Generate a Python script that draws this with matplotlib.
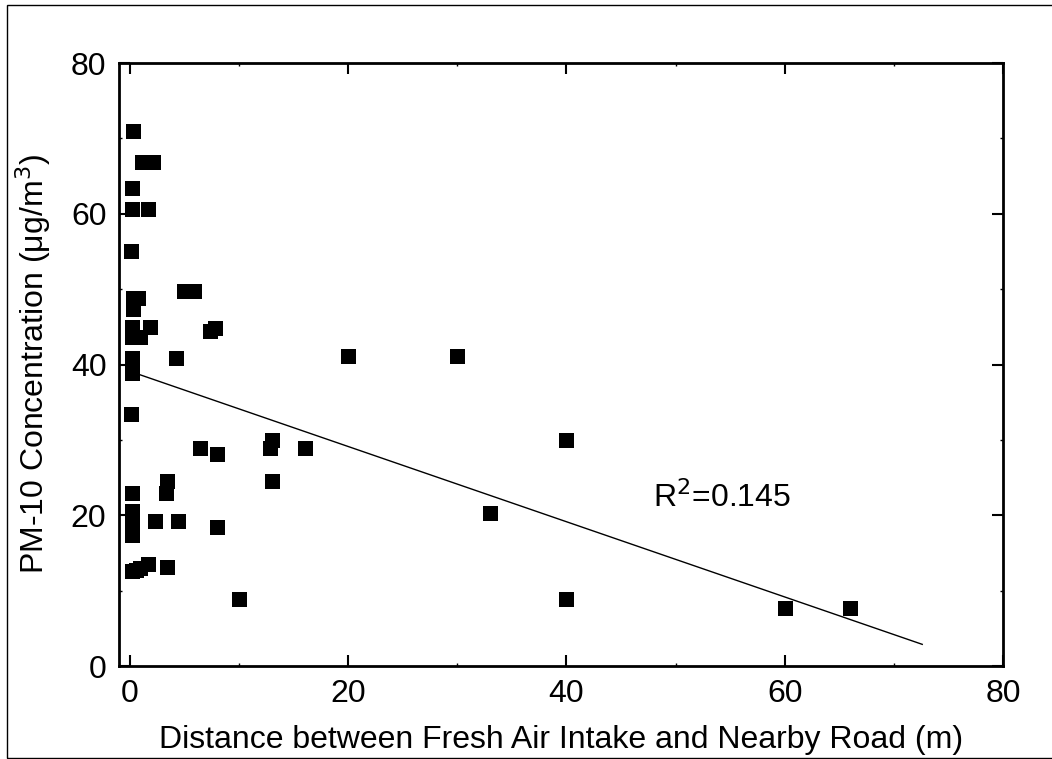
import numpy as np
import matplotlib
matplotlib.use("Agg")
from matplotlib import pyplot as plt
from matplotlib.patches import Rectangle
from matplotlib.ticker import MultipleLocator

plt.rcParams['font.family'] = ['Liberation Sans', 'DejaVu Sans']

# distance (m) and PM-10 concentration (ug/m3)
distance = [0.3, 1.1, 2.1, 0.2, 0.2, 1.7, 0.1, 5.0, 5.9, 0.3,
            0.7, 0.3, 0.2, 1.8, 0.2, 0.9, 7.3, 7.8, 4.2, 0.2,
            0.2, 0.2, 0.1, 20.0, 30.0, 6.4, 8.0, 13.0, 12.8, 16.0,
            13.0, 3.4, 3.3, 0.2, 0.2, 0.2, 2.3, 4.4, 8.0, 0.2,
            0.2, 0.6, 0.9, 1.7, 3.4, 10.0, 40.0, 33.0, 40.0, 60.0,
            66.0]
pm10 = [71.0, 66.8, 66.8, 63.4, 60.6, 60.6, 55.1, 49.8, 49.8, 48.8,
        48.8, 47.3, 45.0, 45.0, 43.7, 43.7, 44.4, 44.9, 40.9, 40.9,
        39.6, 38.9, 33.4, 41.1, 41.1, 28.9, 28.1, 30.0, 28.9, 28.9,
        24.5, 24.5, 23.0, 23.0, 20.5, 19.4, 19.3, 19.3, 18.4, 17.4,
        12.6, 12.8, 13.0, 13.5, 13.1, 8.9, 30.0, 20.3, 8.9, 7.7,
        7.7]

# linear fit
fit_intercept = 39.1
fit_slope = -0.499
fit_range = [0.0, 72.6]
r2_text = "R$^2$=0.145"

fig = plt.figure(figsize=(10.52, 7.59), dpi=100)
ax = fig.add_axes([119/1052, 1 - 666/759, (1003 - 119)/1052, (666 - 63)/759])

ax.plot(distance, pm10, linestyle='none', marker='s', ms=10.8,
        color='black', markeredgewidth=0)

fx = np.array(fit_range)
ax.plot(fx, fit_intercept + fit_slope * fx, color='black', lw=1)

ax.text(47.9, 22.4, r2_text, fontsize=23, va='center', ha='left')

ax.set_xlim(-1, 80)
ax.set_ylim(0, 80)
ax.xaxis.set_major_locator(MultipleLocator(20))
ax.xaxis.set_minor_locator(MultipleLocator(10))
ax.yaxis.set_major_locator(MultipleLocator(20))
ax.yaxis.set_minor_locator(MultipleLocator(10))
ax.tick_params(which='major', direction='in', length=8, width=1.5,
               top=True, right=True, labelsize=23, pad=9)
ax.tick_params(which='minor', direction='in', length=2, width=1,
               top=True, right=True)
for s in ax.spines.values():
    s.set_linewidth(2)

ax.set_xlabel("Distance between Fresh Air Intake and Nearby Road (m)", fontsize=23, labelpad=12)
ax.set_ylabel("PM-10 Concentration (\u03bcg/m$^3$)", fontsize=23, labelpad=13)

# outer frame
fig.patches.append(Rectangle((7/1052, 1/759), 1.1, 753/759, transform=fig.transFigure,
                             fill=False, edgecolor='black', lw=1))

fig.savefig("out.png", dpi=100)
